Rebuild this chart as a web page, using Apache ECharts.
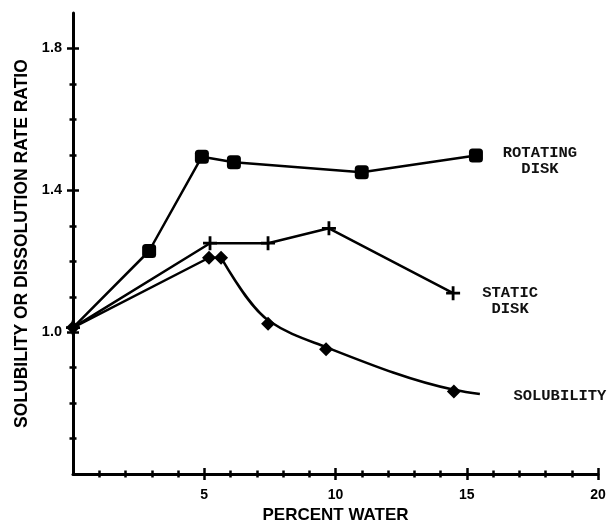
<!DOCTYPE html>
<html>
<head>
<meta charset="utf-8">
<script src="https://cdn.jsdelivr.net/npm/echarts@6/dist/echarts.min.js"></script>
<style>
html,body{margin:0;padding:0;background:#fff;}
#chart{width:610px;height:529px;}
</style>
</head>
<body>
<div id="chart"></div>
<script>
// ---- data ----
const rotatingX = [0, 2.9, 4.91, 6.13, 11.0, 15.35];
const rotatingY = [1.013, 1.229, 1.495, 1.479, 1.451, 1.498];
const staticX = [0, 5.22, 7.43, 9.75, 14.48];
const staticY = [1.013, 1.251, 1.251, 1.293, 1.110];
// solubility: straight part, measured points, and the drawn fitted curve
const solLineX = [0, 5.18, 5.64];
const solLineY = [1.013, 1.21, 1.21];
const solPointX = [7.43, 9.64, 14.51];
const solPointY = [1.024, 0.952, 0.833];
const solCurveX = [5.64, 7.5, 9.64, 14.51, 15.5];
const solCurveY = [1.21, 1.03, 0.958, 0.838, 0.826];

const xTickLabels = [5, 10, 15, 20];
const yTickLabels = [1.0, 1.4, 1.8];
const seriesNames = ['ROTATING\nDISK', 'STATIC\nDISK', 'SOLUBILITY'];

// minor tick positions
const xMinor = []; for (let i = 1; i < 20; i++) if (i % 5) xMinor.push(i);
const yMinor = []; for (let i = 7; i < 19; i++) if ((i - 10) % 4) yMinor.push(i / 10);

const pairs = (xs, ys) => xs.map((x, i) => [x, ys[i]]);

const plusPath = 'path://M4,0 L6,0 L6,4 L10,4 L10,6 L6,6 L6,10 L4,10 L4,6 L0,6 L0,4 L4,4 Z';
const LW = 2.5;
const lineStyle = { color: '#000', width: LW };
const labelFont = { fontFamily: 'Liberation Mono', fontSize: 15.5, fontWeight: 'bold', color: '#111', lineHeight: 16, align: 'center', verticalAlign: 'middle' };

function xAxisDef(opts) {
  return Object.assign({
    type: 'value', min: 0, max: 20, position: 'bottom', offset: 0,
    splitLine: { show: false },
    axisLine: { show: false },
    axisLabel: { show: false },
    axisTick: { show: false }
  }, opts);
}
function yAxisDef(opts) {
  return Object.assign({
    type: 'value', min: 0.6, max: 1.9, position: 'left', offset: 0,
    splitLine: { show: false },
    axisLine: { show: false },
    axisLabel: { show: false },
    axisTick: { show: false }
  }, opts);
}
const tickLS = { color: '#000', width: 2.5 };

// monotone cubic (Fritsch-Carlson) path through pixel points
function monotonePath(pts) {
  const n = pts.length;
  const h = [], d = [];
  for (let i = 0; i < n - 1; i++) {
    h.push(pts[i + 1][0] - pts[i][0]);
    d.push((pts[i + 1][1] - pts[i][1]) / h[i]);
  }
  const m = new Array(n);
  for (let i = 1; i < n - 1; i++) {
    if (d[i - 1] * d[i] <= 0) { m[i] = 0; continue; }
    const w1 = 2 * h[i] + h[i - 1], w2 = h[i] + 2 * h[i - 1];
    m[i] = (w1 + w2) / (w1 / d[i - 1] + w2 / d[i]);
  }
  m[0] = ((2 * h[0] + h[1]) * d[0] - h[0] * d[1]) / (h[0] + h[1]);
  if (Math.sign(m[0]) !== Math.sign(d[0])) m[0] = 0;
  m[n - 1] = ((2 * h[n - 2] + h[n - 3]) * d[n - 2] - h[n - 2] * d[n - 3]) / (h[n - 2] + h[n - 3]);
  if (Math.sign(m[n - 1]) !== Math.sign(d[n - 2])) m[n - 1] = 0;
  let p = 'M' + pts[0][0] + ' ' + pts[0][1];
  for (let i = 0; i < n - 1; i++) {
    const t = h[i] / 3;
    p += ' C' + (pts[i][0] + t) + ' ' + (pts[i][1] + m[i] * t) + ' ' +
         (pts[i + 1][0] - t) + ' ' + (pts[i + 1][1] - m[i + 1] * t) + ' ' +
         pts[i + 1][0] + ' ' + pts[i + 1][1];
  }
  return p;
}

const chart = echarts.init(document.getElementById('chart'));
chart.setOption({
  animation: false,
  backgroundColor: '#fff',
  grid: { left: 73, right: 12, top: 13, bottom: 47 },
  xAxis: [
    xAxisDef({
      axisLine: { show: true, lineStyle: { color: '#000', width: 3 } },
      axisLabel: { show: true, customValues: xTickLabels, margin: 14, fontSize: 14, fontWeight: 'bold', color: '#000', fontFamily: 'Liberation Sans' },
      name: 'PERCENT WATER', nameLocation: 'middle', nameGap: 31,
      nameTextStyle: { fontSize: 17, fontWeight: 'bold', color: '#000', fontFamily: 'Liberation Sans' }
    }),
    // symmetric ticks: axes shifted into the plot with outward ticks
    xAxisDef({ offset: -6, axisTick: { show: true, customValues: xTickLabels, length: 12, lineStyle: tickLS } }),
    xAxisDef({ offset: -3.5, axisTick: { show: true, customValues: xMinor, length: 7, lineStyle: tickLS } })
  ],
  yAxis: [
    yAxisDef({
      axisLine: { show: true, lineStyle: { color: '#000', width: 3 } },
      axisLabel: { show: true, customValues: yTickLabels, margin: 11, fontSize: 14.5, fontWeight: 'bold', color: '#000', fontFamily: 'Liberation Sans', formatter: v => v.toFixed(1) },
      name: 'SOLUBILITY OR DISSOLUTION RATE RATIO', nameLocation: 'middle', nameGap: 38,
      nameTextStyle: { fontSize: 17.5, fontWeight: 'bold', color: '#000', fontFamily: 'Liberation Sans' }
    }),
    yAxisDef({ offset: -6, axisTick: { show: true, customValues: yTickLabels, length: 12, lineStyle: tickLS } }),
    yAxisDef({ offset: -3.5, axisTick: { show: true, customValues: yMinor, length: 7, lineStyle: tickLS } })
  ],
  series: [
    {
      type: 'line', name: 'rotating', xAxisIndex: 0, yAxisIndex: 0,
      data: pairs(rotatingX, rotatingY).map((d, i, a) => ({
        value: d,
        symbolSize: i === 0 ? 6 : 14,
        label: i === a.length - 1 ? Object.assign({ show: true, formatter: seriesNames[0], position: [71, 13] }, labelFont) : { show: false }
      })),
      symbol: 'roundRect', itemStyle: { color: '#000' }, lineStyle: lineStyle
    },
    {
      type: 'line', name: 'static', xAxisIndex: 0, yAxisIndex: 0,
      data: pairs(staticX, staticY).map((d, i, a) => ({
        value: d,
        label: i === a.length - 1 ? Object.assign({ show: true, formatter: seriesNames[1], position: [64, 15] }, labelFont) : { show: false }
      })),
      symbol: plusPath, symbolSize: 14, itemStyle: { color: '#000' }, lineStyle: lineStyle
    },
    {
      type: 'line', name: 'solubility-line', xAxisIndex: 0, yAxisIndex: 0,
      data: pairs(solLineX, solLineY),
      symbol: 'diamond', symbolSize: 14, itemStyle: { color: '#000' }, lineStyle: lineStyle
    },
    {
      type: 'custom', name: 'solubility-curve', xAxisIndex: 0, yAxisIndex: 0,
      data: pairs(solCurveX, solCurveY),
      renderItem: function (params, api) {
        if (params.dataIndex !== 0) return null;
        const pts = solCurveX.map((x, i) => api.coord([x, solCurveY[i]]));
        return {
          type: 'path',
          shape: { pathData: monotonePath(pts) },
          style: { stroke: '#000', lineWidth: LW, fill: null }
        };
      },
      z: 2
    },
    {
      type: 'scatter', name: 'solubility-points', xAxisIndex: 0, yAxisIndex: 0,
      data: pairs(solPointX, solPointY).map((d, i, a) => ({
        value: d,
        label: i === a.length - 1 ? Object.assign({ show: true, formatter: seriesNames[2], position: [113, 12] }, labelFont) : { show: false }
      })),
      symbol: 'diamond', symbolSize: 14, itemStyle: { color: '#000', opacity: 1 }, z: 3
    }
  ]
});
</script>
</body>
</html>
